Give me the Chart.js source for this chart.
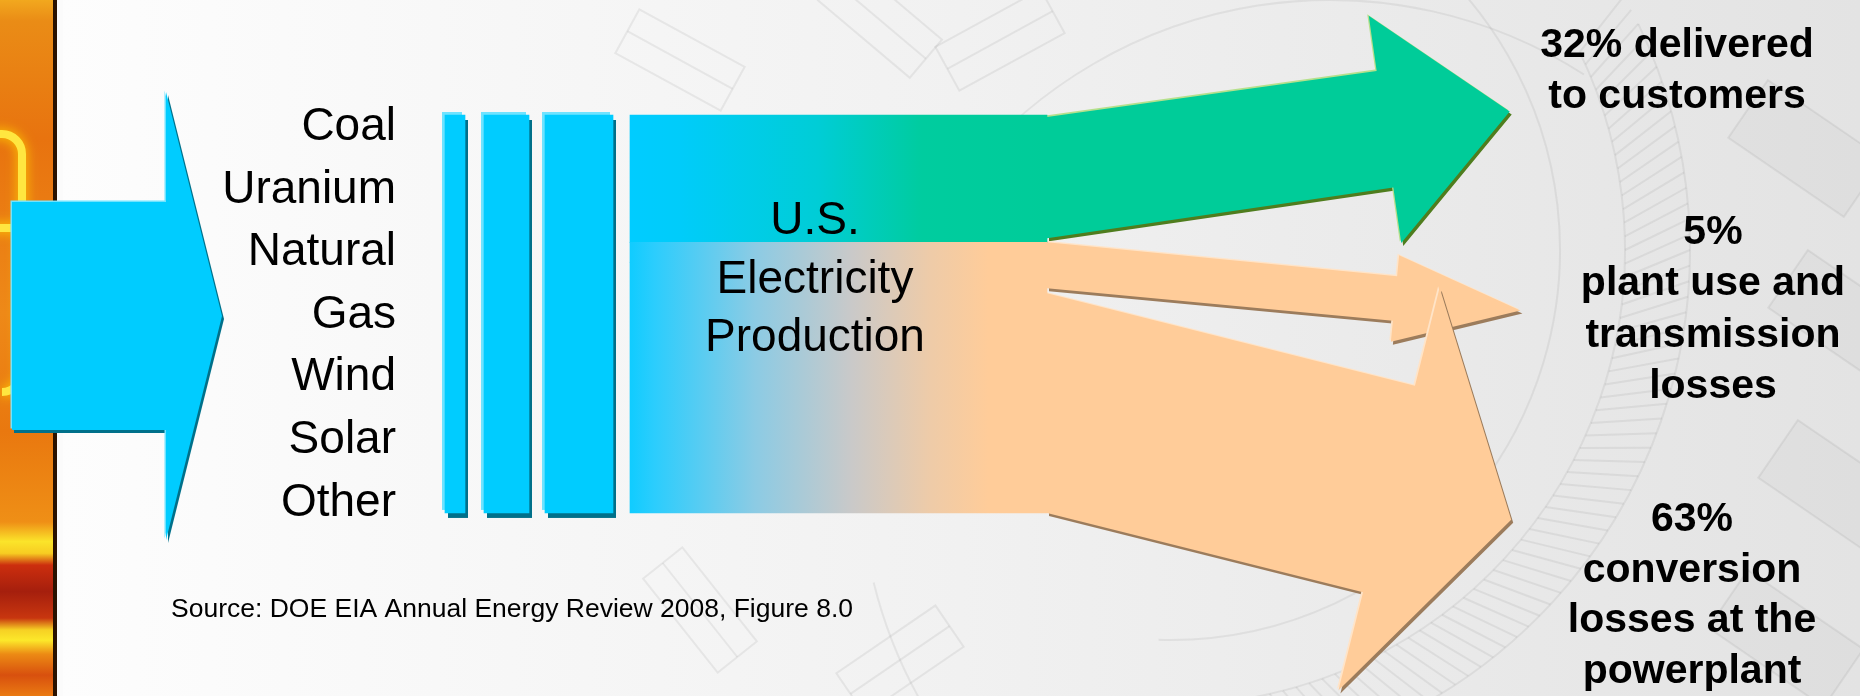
<!DOCTYPE html>
<html lang="en">
<head>
<meta charset="UTF-8">
<title>U.S. Electricity Production</title>
<script src="https://cdn.jsdelivr.net/npm/chart.js"></script>
<style>
  html, body { margin: 0; padding: 0; background: #f0f0f0; overflow: hidden; }
  #wrap { width: 1860px; height: 696px; }
</style>
</head>
<body>
<div id="wrap"><canvas id="flowChart" width="1860" height="696"></canvas></div>
<script>
// fuels going into the plants
const sources = ['Coal', 'Uranium', ['Natural', 'Gas'], 'Wind', 'Solar', 'Other'];
// where the primary energy ends up (%)
const outcomes = ['Delivered to customers', 'Plant use and transmission losses', 'Conversion losses'];
const outcomeShares = [32, 5, 63];
const outcomeLabels = [
  ['32% delivered', 'to customers'],
  ['5%', 'plant use and', 'transmission', 'losses'],
  ['63%', 'conversion', 'losses at the', 'powerplant']
];
// the three input columns are full height
const stageShares = [100, 100, 100];
const centerTitle = ['U.S.', 'Electricity', 'Production'];
const sourceNote = 'Source: DOE EIA Annual Energy Review 2008, Figure 8.0';

// layout (stage units = pixels on x, percent on y)
const yMin = -46, yMax = 128.9;
const stageX = [455, 506.5, 579];
const stageW = [20, 45, 68];
const prodX = 838.5, prodW = 417;
const flowEnds = [[1385, 96.4], [1395, 53.9], [1389, 6.0]];   // centre of each arrow shaft end
const headLen = 126, headRatio = 1.95, minShaft = 46, flowGap = 5;

const CYAN = '#00ccff', GREEN = '#00cc99', PEACH = '#ffcc99';

function polyPath(ctx, pts, dx, dy) {
  ctx.beginPath();
  pts.forEach((p, i) => i ? ctx.lineTo(p[0] + dx, p[1] + dy) : ctx.moveTo(p[0] + dx, p[1] + dy));
  ctx.closePath();
}

// flat shape with a light top-left edge and a dark bottom-right edge
function bevelPoly(ctx, pts, fill, light, dark) {
  ctx.fillStyle = dark; polyPath(ctx, pts, 2, 3); ctx.fill();
  ctx.fillStyle = light; polyPath(ctx, pts, -1.5, -1.5); ctx.fill();
  ctx.fillStyle = fill; polyPath(ctx, pts, 0, 0); ctx.fill();
}

function arrowPoints(sx, sTop, sBot, ex, ey) {
  const sc = (sTop + sBot) / 2;
  let dx = ex - sx, dy = ey - sc;
  const len = Math.hypot(dx, dy);
  dx /= len; dy /= len;
  const nx = dy, ny = -dx;              // points to the upper side
  const h = (sBot - sTop) / 2 * 0.97, H = h * headRatio;
  return [
    [sx, sTop],
    [ex + h * nx, ey + h * ny],
    [ex + H * nx, ey + H * ny],
    [ex + headLen * dx, ey + headLen * dy],
    [ex - H * nx, ey - H * ny],
    [ex - h * nx, ey - h * ny],
    [sx, sBot]
  ];
}

function prodGradient(stops, flat) {
  return (c) => {
    const xs = c.chart.scales.x;
    if (!xs || !c.chart.chartArea) return flat;
    const x0 = xs.getPixelForValue(prodX - prodW / 2), x1 = xs.getPixelForValue(prodX + prodW / 2);
    if (!isFinite(x0) || !isFinite(x1)) return flat;
    const g = c.chart.ctx.createLinearGradient(x0, 0, x1, 0);
    stops.forEach(s => g.addColorStop(s[0], s[1]));
    return g;
  };
}
const lossGrad = prodGradient([[0, '#10ccff'], [0.06, '#2ccdfd'], [0.3, '#8ccbe4'], [0.53, '#c9c9c9'], [0.72, '#eecba8'], [0.86, '#ffcc99'], [1, '#ffcc99']], PEACH);
const deliverGrad = prodGradient([[0, '#00ccff'], [0.12, '#00ccfa'], [0.45, '#00cdd6'], [0.7, '#00cc9f'], [1, '#00cc99']], GREEN);

function drawMachinery(ctx) {
  ctx.save();
  ctx.strokeStyle = 'rgba(120,120,120,0.12)';
  ctx.lineWidth = 2;
  // hatched rim on the right
  const cx = 1170, cy = 250;
  ctx.beginPath(); ctx.arc(cx, cy, 455, -0.45, 1.5); ctx.stroke();
  ctx.beginPath(); ctx.arc(cx, cy, 520, -0.45, 1.5); ctx.stroke();
  for (let a = -0.45; a < 1.5; a += 0.03) {
    ctx.beginPath();
    ctx.moveTo(cx + 455 * Math.cos(a), cy + 455 * Math.sin(a));
    ctx.lineTo(cx + 520 * Math.cos(a - 0.06), cy + 520 * Math.sin(a - 0.06));
    ctx.stroke();
  }
  ctx.beginPath(); ctx.arc(cx, cy, 390, -0.9, 1.6); ctx.stroke();
  // big wheel behind the middle
  ctx.beginPath(); ctx.arc(1330, 470, 470, -2.45, -1.0); ctx.stroke();
  ctx.beginPath(); ctx.arc(1330, 470, 470, 2.2, 2.9); ctx.stroke();
  // teeth on the far right
  const teeth = [[1770, 130], [1810, 300], [1800, 470], [1750, 620]];
  teeth.forEach(([tx, ty]) => {
    ctx.save(); ctx.translate(tx, ty); ctx.rotate(0.6);
    ctx.fillStyle = 'rgba(150,150,150,0.06)';
    ctx.fillRect(-30, -40, 140, 70); ctx.strokeRect(-30, -40, 140, 70);
    ctx.restore();
  });
  // small blocks near top and bottom
  [[880, 20, 0.7], [1000, 40, -0.5], [700, 610, 0.9], [900, 660, -0.6], [680, 60, 0.5]].forEach(([bx, by, r]) => {
    ctx.save(); ctx.translate(bx, by); ctx.rotate(r);
    ctx.strokeRect(-60, -25, 120, 50);
    ctx.beginPath(); ctx.moveTo(-60, 0); ctx.lineTo(60, 0); ctx.stroke();
    ctx.restore();
  });
  ctx.restore();
}

function drawStrip(ctx, H) {
  const g = ctx.createLinearGradient(0, 0, 0, H);
  [[0, '#f2a81e'], [0.03, '#ea8c16'], [0.2, '#e8730f'], [0.45, '#ee8918'], [0.62, '#e9780f'],
   [0.75, '#ef8f16'], [0.778, '#fbe42a'], [0.795, '#f7cc22'], [0.812, '#cc2e0e'], [0.85, '#a51f0d'],
   [0.888, '#c8360f'], [0.905, '#f6d024'], [0.92, '#fce82a'], [0.94, '#ec8a14'], [0.97, '#d8500e'], [1, '#ea7a12']]
    .forEach(s => g.addColorStop(s[0], s[1]));
  ctx.fillStyle = g;
  ctx.fillRect(0, 0, 53, H);
  // neon loop
  ctx.save();
  ctx.beginPath(); ctx.rect(0, 0, 53, H); ctx.clip();
  ctx.strokeStyle = '#ffe640';
  ctx.lineWidth = 8;
  ctx.shadowColor = '#ffd000';
  ctx.shadowBlur = 12;
  ctx.beginPath();
  ctx.moveTo(-10, 134);
  ctx.arcTo(22, 134, 22, 170, 20);
  ctx.lineTo(22, 370);
  ctx.arcTo(22, 392, -10, 392, 20);
  ctx.stroke();
  ctx.beginPath(); ctx.moveTo(-10, 228); ctx.lineTo(20, 228); ctx.stroke();
  ctx.restore();
  ctx.fillStyle = '#2a1200';
  ctx.fillRect(53, 0, 4, H);
  ctx.fillStyle = '#fbfbfb';
  ctx.fillRect(57, 0, 6, H);
}

const artPlugin = {
  id: 'art',
  beforeDraw(chart) {
    const ctx = chart.ctx, W = chart.width, H = chart.height;
    ctx.save();
    const g = ctx.createLinearGradient(60, 0, W, 0);
    g.addColorStop(0, '#fdfdfd');
    g.addColorStop(0.5, '#f1f1f1');
    g.addColorStop(1, '#e3e3e3');
    ctx.fillStyle = g;
    ctx.fillRect(0, 0, W, H);
    drawMachinery(ctx);
    drawStrip(ctx, H);
    // big input arrow
    bevelPoly(ctx, [[12, 202], [166, 202], [166, 92], [222, 316], [166, 540], [166, 430], [12, 430]],
      CYAN, '#6fe3ff', '#00708a');
    ctx.restore();
  },
  beforeDatasetsDraw(chart) {
    const ctx = chart.ctx, ys = chart.scales.y, xs = chart.scales.x;
    ctx.save();
    // bevel of the input columns
    stageShares.forEach((v, i) => {
      const el = chart.getDatasetMeta(i).data[0];
      const x0 = el.x - el.width / 2, w = el.width, h = el.base - el.y;
      ctx.fillStyle = '#00708a'; ctx.fillRect(x0 + 3, el.y + 5, w, h);
      ctx.fillStyle = '#6fe3ff'; ctx.fillRect(x0 - 3, el.y - 3, w, h);
    });
    // flows leaving the production block
    const base = stageShares.length;
    const lossBig = chart.getDatasetMeta(base).data[0];
    const lossSmall = chart.getDatasetMeta(base + 1).data[0];
    const deliv = chart.getDatasetMeta(base + 2).data[0];
    const sx = deliv.x + deliv.width / 2;
    const pxPerUnit = Math.abs(ys.getPixelForValue(0) - ys.getPixelForValue(1));
    const smallTop = lossSmall.y;
    const smallBot = smallTop + Math.max(outcomeShares[1] * pxPerUnit, minShaft);
    const starts = [
      [deliv.y + 2, deliv.base - 4],
      [smallTop, smallBot],
      [smallBot + flowGap, lossBig.base]
    ];
    const looks = [[GREEN, '#b6e08c', '#4f7d1e'], [PEACH, '#ffe4c8', '#9c7c5c'], [PEACH, '#ffe4c8', '#9c7c5c']];
    [0, 1, 2].forEach(i => {
      const ex = xs.getPixelForValue(flowEnds[i][0]), ey = ys.getPixelForValue(flowEnds[i][1]);
      const pts = arrowPoints(sx, starts[i][0], starts[i][1], ex, ey);
      bevelPoly(ctx, pts, looks[i][0], looks[i][1], looks[i][2]);
    });
    ctx.restore();
  },
  afterDraw(chart) {
    const ctx = chart.ctx;
    ctx.save();
    ctx.fillStyle = '#000';
    ctx.textBaseline = 'alphabetic';
    // fuel list
    ctx.font = '46px "Liberation Sans", Arial, sans-serif';
    ctx.textAlign = 'right';
    const lines = sources.flat();
    lines.forEach((t, i) => ctx.fillText(t, 396, 140 + i * 62.6));
    // title in the block
    ctx.textAlign = 'center';
    centerTitle.forEach((t, i) => ctx.fillText(t, 815, 234 + i * 58.5));
    // outcomes
    ctx.font = 'bold 41px "Liberation Sans", Arial, sans-serif';
    const pos = [[1677, 57, 51], [1713, 244, 51.3], [1692, 531, 50.7]];
    outcomeLabels.forEach((grp, g) => {
      grp.forEach((t, i) => ctx.fillText(t, pos[g][0], pos[g][1] + i * pos[g][2]));
    });
    // note
    ctx.font = '26.5px "Liberation Sans", Arial, sans-serif';
    ctx.textAlign = 'left';
    ctx.fillText(sourceNote, 171, 617);
    ctx.restore();
  }
};

const datasets = stageShares.map((v, i) => ({
  label: 'Stage ' + (i + 1),
  data: [{ x: stageX[i], y: v }],
  barThickness: stageW[i],
  backgroundColor: CYAN,
  stack: 'all'
}));
datasets.push(
  { label: outcomes[2], data: [{ x: prodX, y: outcomeShares[2] }], barThickness: prodW, backgroundColor: lossGrad, stack: 'all' },
  { label: outcomes[1], data: [{ x: prodX, y: outcomeShares[1] }], barThickness: prodW, backgroundColor: lossGrad, stack: 'all' },
  { label: outcomes[0], data: [{ x: prodX, y: outcomeShares[0] }], barThickness: prodW, backgroundColor: deliverGrad, stack: 'all' }
);

new Chart(document.getElementById('flowChart'), {
  type: 'bar',
  data: { datasets: datasets },
  options: {
    responsive: false,
    animation: false,
    devicePixelRatio: 1,
    layout: { padding: 0 },
    plugins: { legend: { display: false }, tooltip: { enabled: false } },
    scales: {
      x: { type: 'linear', min: 0, max: 1860, display: false, stacked: true, offset: false, grid: { offset: false } },
      y: { min: yMin, max: yMax, display: false, stacked: true }
    }
  },
  plugins: [artPlugin]
});
</script>
</body>
</html>
